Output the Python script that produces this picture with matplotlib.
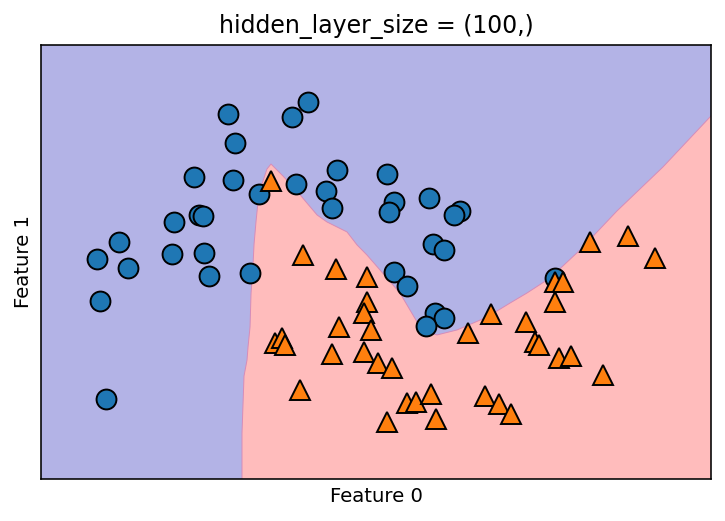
import matplotlib
matplotlib.use("Agg")
import matplotlib.pyplot as plt
import numpy as np

# class 0 (circles)
x0 = [-0.384, -0.342, -0.587, -0.354, -0.199, -0.557, -0.533, -0.706, -1.034, -1.166,
      -0.718, -0.527, -0.981, -0.497, -0.252, -1.148, -1.112, 0.094, -0.001, 0.267,
      0.022, 0.201, 0.237, 0.566, 0.607, 0.578, 0.816, 1.001, 0.966, 0.840,
      0.906, 0.607, 0.685, 0.852, 0.906, 0.799, 1.569]
y0 = [1.187, 1.013, 0.809, 0.791, 0.707, 0.582, 0.576, 0.540, 0.420, 0.318,
      0.348, 0.354, 0.264, 0.216, 0.234, 0.066, -0.521, 1.259, 1.169, 0.851,
      0.767, 0.725, 0.623, 0.827, 0.659, 0.600, 0.683, 0.606, 0.582, 0.408,
      0.372, 0.240, 0.156, -0.006, -0.036, -0.083, 0.204]

# class 1 (triangles)
x1 = [-0.127, 0.064, 0.261, 0.446, 0.446, 0.428, 0.470, 0.279, 0.237, 0.428,
      0.512, 0.596, -0.103, -0.061, -0.043, 0.046, 0.685, 0.739, 0.828, 0.566,
      0.858, 1.049, 1.187, 1.151, 1.234, 1.306, 1.778, 2.004, 2.166, 1.569,
      1.616, 1.569, 1.396, 1.449, 1.473, 1.593, 1.664, 1.855]
y1 = [0.785, 0.342, 0.258, 0.210, 0.060, -0.006, -0.107, -0.089, -0.251, -0.239,
      -0.305, -0.335, -0.185, -0.155, -0.197, -0.467, -0.545, -0.539, -0.491, -0.659,
      -0.641, -0.125, -0.012, -0.503, -0.551, -0.611, 0.420, 0.456, 0.324, 0.180,
      0.180, 0.060, -0.059, -0.179, -0.197, -0.275, -0.263, -0.377]

# decision boundary (from bottom edge, around to right edge)
bx = [-0.300, -0.300, -0.288, -0.270, -0.264, -0.252, -0.246, -0.234, -0.228, -0.216,
      -0.204, -0.181, -0.151, -0.127, -0.055, 0.028, 0.088, 0.148, 0.207, 0.327,
      0.387, 0.446, 0.524, 0.643, 0.745, 0.804, 0.864, 0.984, 1.163, 1.300,
      1.401, 1.539, 1.718, 1.939, 2.213, 2.500]
by = [-1.000, -0.724, -0.383, -0.287, -0.209, -0.089, 0.114, 0.288, 0.408, 0.546,
      0.665, 0.767, 0.857, 0.887, 0.815, 0.725, 0.653, 0.582, 0.540, 0.480,
      0.402, 0.342, 0.252, 0.114, -0.059, -0.119, -0.137, -0.107, -0.030, 0.054,
      0.114, 0.204, 0.372, 0.606, 0.869, 1.175]

xlim = (-1.5, 2.5)
ylim = (-1.0, 1.6)

fig = plt.figure(figsize=(7.25, 5.21), dpi=100)
ax = fig.add_axes([41/725, 1 - 479/521, 670/725, 434/521])

blue_bg = (179/255, 179/255, 230/255)
red_bg = (1.0, 188/255, 188/255)
ax.set_facecolor(blue_bg)
ax.fill(bx + [xlim[1]], by + [ylim[0]], color=red_bg, lw=0, zorder=0)
ax.plot(bx, by, color=(0.84, 0.55, 0.72), lw=0.7, zorder=1)

ax.plot(x0, y0, 'o', ms=14.3, mec='k', mew=1.4, color='#1f77b4', zorder=2)
ax.plot(x1, y1, '^', ms=14.3, mec='k', mew=1.4, color='#ff7f0e', zorder=3)

ax.set_xlim(*xlim)
ax.set_ylim(*ylim)
ax.set_xticks([])
ax.set_yticks([])
for s in ax.spines.values():
    s.set_linewidth(1.15)
ax.set_title("hidden_layer_size = (100,)", fontsize=17, pad=8.5)
ax.set_xlabel("Feature 0", fontsize=14.2, labelpad=5.5)
ax.set_ylabel("Feature 1", fontsize=14.2, labelpad=5.5)

fig.savefig("out.png", dpi=100)
